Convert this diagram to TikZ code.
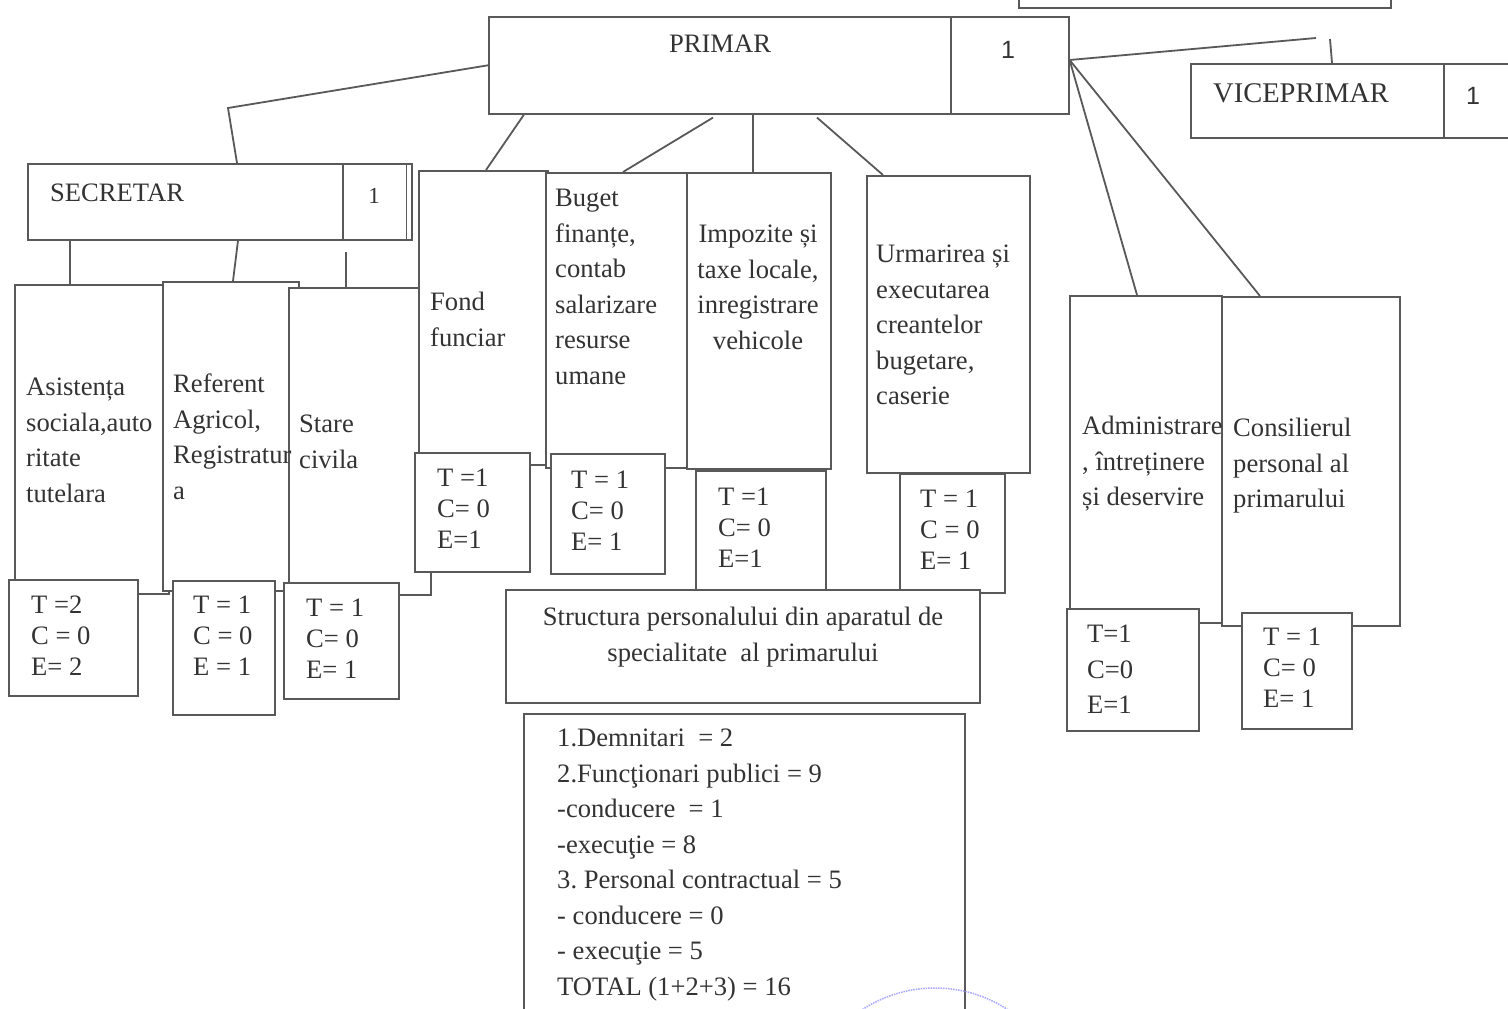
\documentclass[tikz,border=0pt]{standalone}
\usepackage{fontspec}
\setmainfont{Liberation Serif}
\newfontfamily\arialfont{Liberation Sans}
\usetikzlibrary{positioning,calc}
\frenchspacing
\tikzstyle{box} = [draw=black!65, line width=1.6pt, fill=white, rectangle, inner sep=0pt, anchor=north west]
\tikzstyle{txt} = [inner sep=0pt, anchor=north west, align=left, text=black!80]
\tikzstyle{tce} = [txt, font=\fontsize{26.6}{31}\selectfont]
\tikzstyle{line} = [draw=black!65, line width=1.8pt]

\begin{document}
\begin{tikzpicture}[x=1pt,y=-1pt,font=\fontsize{26.6}{35.5}\selectfont]
\useasboundingbox (0,0) rectangle (1508,1009);
\clip (0,0) rectangle (1508,1009);
\fill[white] (0,0) rectangle (1508,1009);

% conducere
\node[box, minimum width=372pt, minimum height=40pt] (top) at (1018,-33) {};
\node[box, minimum width=462pt, minimum height=97pt] (primar) at (488,16) {};
\node[box, minimum width=118pt, minimum height=97pt] (primarnr) at (950,16) {};
\node[box, minimum width=253pt, minimum height=74pt] (vice) at (1190,63) {};
\node[box, minimum width=100pt, minimum height=74pt] (vicenr) at (1443,63) {};
\node[box, minimum width=315pt, minimum height=76pt] (secr) at (27,163) {};
\node[box, minimum width=69pt, minimum height=76pt] (secrnr) at (342,163) {};
\draw[line, line width=1pt] ($(secrnr.north east)+(-6,0)$) -- ($(secrnr.south east)+(-6,0)$);

% compartimente
\node[box, minimum width=154pt, minimum height=309pt] (asist) at (14,284) {};
\node[box, minimum width=136pt, minimum height=309pt] (refer) at (162,281) {};
\node[box, minimum width=142pt, minimum height=307pt] (stare) at (288,287) {};
\node[box, minimum width=129pt, minimum height=294pt] (fond) at (418,170) {};
\node[box, minimum width=141pt, minimum height=295pt] (buget) at (545,172) {};
\node[box, minimum width=144pt, minimum height=296pt] (impoz) at (686,172) {};
\node[box, minimum width=163pt, minimum height=297pt] (urmar) at (866,175) {};
\node[box, minimum width=152pt, minimum height=327pt] (admin) at (1069,295) {};
\node[box, minimum width=178pt, minimum height=329pt] (consil) at (1221,296) {};

% posturi
\node[box, minimum width=129pt, minimum height=116pt] (asistT) at (8,579) {};
\node[box, minimum width=102pt, minimum height=134pt] (referT) at (172,580) {};
\node[box, minimum width=115pt, minimum height=116pt] (stareT) at (283,582) {};
\node[box, minimum width=115pt, minimum height=119pt] (fondT) at (414,452) {};
\node[box, minimum width=114pt, minimum height=120pt] (bugetT) at (550,453) {};
\node[box, minimum width=130pt, minimum height=120pt] (impozT) at (695,470) {};
\node[box, minimum width=105pt, minimum height=119pt] (urmarT) at (899,473) {};
\node[box, minimum width=132pt, minimum height=122pt] (adminT) at (1066,608) {};
\node[box, minimum width=110pt, minimum height=116pt] (consilT) at (1241,612) {};

\node[box, minimum width=474pt, minimum height=113pt] (struct) at (505,589) {};
\node[box, minimum width=441pt, minimum height=330pt] (summary) at (523,713) {};

% legaturi
\coordinate (p1) at (228,108);
\coordinate (pr) at ($(primarnr.north east)+(0,44)$);
\coordinate (v1) at (1316,38);
\coordinate (v2) at (1330,39);
\coordinate (s3) at (346,252);
\draw[line] (primar.west) -- (p1) -- ($(secr.north west)+(210,0)$);
\draw[line] ($(primar.south west)+(36,0)$) -- ($(fond.north west)+(68,0)$);
\draw[line] ($(primar.south west)+(225,3)$) -- ($(buget.north west)+(78,0)$);
\draw[line] ($(primar.south west)+(265,0)$) -- ($(impoz.north west)+(67,0)$);
\draw[line] ($(primar.south west)+(329,3)$) -- ($(urmar.north west)+(17,0)$);
\draw[line] (pr) -- (v1);
\draw[line] (v2) -- ($(vice.north west)+(142,0)$);
\draw[line] (pr) -- ($(admin.north west)+(68,0)$);
\draw[line] (pr) -- ($(consil.north west)+(39,0)$);
\draw[line] ($(secr.south west)+(43,0)$) -- ($(asist.north west)+(56,0)$);
\draw[line] ($(secr.south west)+(211,0)$) -- ($(refer.north west)+(71,0)$);
\draw[line] (s3) -- ($(stare.north west)+(58,0)$);

% texte
\node[txt, anchor=base] (primar-t) at (720,52) {PRIMAR};
\node[txt, anchor=base, font=\arialfont\fontsize{25}{25}\selectfont] (primarnr-t) at (1008,58) {1};
\node[txt, anchor=base west, font=\fontsize{28.5}{30}\selectfont] (vice-t) at (1213,102) {VICEPRIMAR};
\node[txt, anchor=base, font=\arialfont\fontsize{25}{25}\selectfont] (vicenr-t) at (1473,104) {1};
\node[txt, anchor=base west] (secr-t) at (50,201) {SECRETAR};
\node[txt, anchor=base, font=\fontsize{23}{23}\selectfont] (secrnr-t) at (374,203) {1};

\node[txt] (asist-t) at (26,378) {Asistența\\sociala,auto\\ritate\\tutelara};
\node[txt] (refer-t) at (173,374) {Referent\\Agricol,\\Registratur\\a};
\node[txt] (stare-t) at (299,415) {Stare\\civila};
\node[txt] (fond-t) at (430,292) {Fond\\funciar};
\node[txt] (buget-t) at (555,189) {Buget\\finanțe,\\contab\\salarizare\\resurse\\umane};
\node[txt, anchor=north, align=center] (impoz-t) at (758,225) {Impozite și\\taxe locale,\\inregistrare\\vehicole};
\node[txt] (urmar-t) at (876,245) {Urmarirea și\\executarea\\creantelor\\bugetare,\\caserie};
\node[txt] (admin-t) at (1082,416) {Administrare\\, întreținere\\și deservire};
\node[txt] (consil-t) at (1233,418) {Consilierul\\personal al\\primarului};

\node[tce] (asistT-t) at (31,596) {T =2\\C = 0\\E= 2};
\node[tce] (referT-t) at (193,596) {T = 1\\C = 0\\E = 1};
\node[tce] (stareT-t) at (306,599) {T = 1\\C= 0\\E= 1};
\node[tce] (fondT-t) at (437,469) {T =1\\C= 0\\E=1};
\node[tce] (bugetT-t) at (571,471) {T = 1\\C= 0\\E= 1};
\node[tce] (impozT-t) at (718,488) {T =1\\C= 0\\E=1};
\node[tce] (urmarT-t) at (920,490) {T = 1\\C = 0\\E= 1};
\node[txt] (adminT-t) at (1087,625) {T=1\\C=0\\E=1};
\node[tce] (consilT-t) at (1263,628) {T = 1\\C= 0\\E= 1};

\node[txt, anchor=north, align=center] (struct-t) at (743,607) {Structura personalului din aparatul de\\specialitate \ al primarului};
\node[txt] (summary-t) at (557,729) {1.Demnitari \ = 2\\2.Funcţionari publici = 9\\-conducere \ = 1\\-execuţie = 8\\3. Personal contractual = 5\\- conducere = 0\\- execuţie = 5\\TOTAL (1+2+3) = 16};

% stampila
\draw[blue!35, densely dotted, line width=1.5pt] (935,1121) circle (133);
\end{tikzpicture}
\end{document}
